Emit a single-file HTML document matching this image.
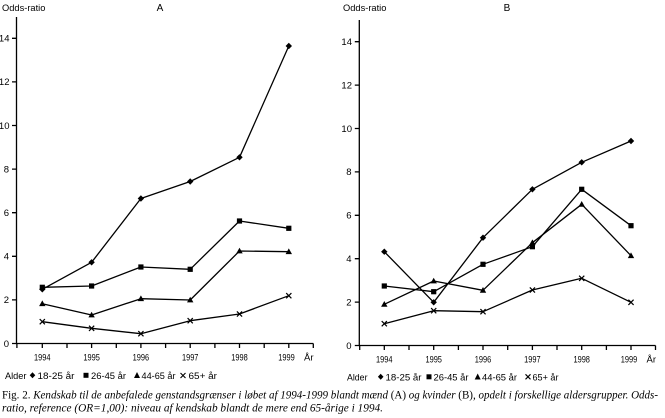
<!DOCTYPE html>
<html><head><meta charset="utf-8"><style>
html,body{margin:0;padding:0;background:#fff;}
svg{display:block;}
</style></head><body>
<svg width="665" height="418" viewBox="0 0 665 418" xmlns="http://www.w3.org/2000/svg" font-family="Liberation Sans, sans-serif" fill="#000">
<defs>
<g id="dm"><path d="M0,-3.2 L3.2,0 L0,3.2 L-3.2,0Z"/></g>
<g id="sq"><rect x="-2.6" y="-2.6" width="5.2" height="5.2"/></g>
<g id="tr"><path d="M0,-3.3 L3.2,2.4 L-3.2,2.4Z"/></g>
<g id="xx"><path d="M-2.6,-2.6 L2.6,2.6 M-2.6,2.6 L2.6,-2.6" stroke="#000" stroke-width="1.2" fill="none"/></g>
</defs>

<!-- ===== Panel A ===== -->
<text x="2" y="11" font-size="9.3">Odds-ratio</text>
<text x="160" y="11" font-size="10" text-anchor="middle">A</text>
<g stroke="#000" stroke-width="1.3" fill="none">
<path d="M16.5,17 V343.5 H313.3"/>
<path d="M12,343.5 H16.5 M12,299.9 H16.5 M12,256.3 H16.5 M12,212.7 H16.5 M12,169.1 H16.5 M12,125.5 H16.5 M12,81.9 H16.5 M12,38.3 H16.5"/>
<path d="M16.9,343.5 v4.5 M42.3,343.5 v4.5 M67,343.5 v4.5 M91.6,343.5 v4.5 M116.3,343.5 v4.5 M140.9,343.5 v4.5 M165.6,343.5 v4.5 M190.2,343.5 v4.5 M214.9,343.5 v4.5 M239.5,343.5 v4.5 M264.2,343.5 v4.5 M288.8,343.5 v4.5 M313.3,343.5 v4.5"/>
</g>
<g font-size="9.5" text-anchor="end">
<text x="9" y="346.8">0</text><text x="9" y="303.2">2</text><text x="9" y="259.6">4</text><text x="9" y="216">6</text><text x="9" y="172.4">8</text><text x="9.5" y="128.8">10</text><text x="9.5" y="85.2">12</text><text x="9.5" y="41.6">14</text>
</g>
<g font-size="9.5" text-anchor="middle">
<text x="42.3" y="360.5" textLength="16.5" lengthAdjust="spacingAndGlyphs">1994</text>
<text x="91.6" y="360.5" textLength="16.5" lengthAdjust="spacingAndGlyphs">1995</text>
<text x="140.9" y="360.5" textLength="16.5" lengthAdjust="spacingAndGlyphs">1996</text>
<text x="190.2" y="360.5" textLength="16.5" lengthAdjust="spacingAndGlyphs">1997</text>
<text x="239.5" y="360.5" textLength="16.5" lengthAdjust="spacingAndGlyphs">1998</text>
<text x="286.5" y="360.5" textLength="16.5" lengthAdjust="spacingAndGlyphs">1999</text>
</g>
<text x="304" y="360.5" font-size="9.5">År</text>

<g stroke="#000" stroke-width="1.3" fill="none" stroke-linejoin="round">
<polyline points="42.3,289.3 91.6,262.3 140.9,198.5 190.2,181.5 239.5,157.3 288.8,46"/>
<polyline points="42.3,287.3 91.6,286 140.9,267 190.2,269.3 239.5,221 288.8,228.3"/>
<polyline points="42.3,303.7 91.6,315 140.9,298.7 190.2,300 239.5,251 288.8,251.7"/>
<polyline points="42.3,321.7 91.6,328.3 140.9,333.7 190.2,320.7 239.5,314 288.8,295.7"/>
</g>
<use href="#dm" x="42.3" y="289.3"/><use href="#dm" x="91.6" y="262.3"/><use href="#dm" x="140.9" y="198.5"/><use href="#dm" x="190.2" y="181.5"/><use href="#dm" x="239.5" y="157.3"/><use href="#dm" x="288.8" y="46"/>
<use href="#sq" x="42.3" y="287.3"/><use href="#sq" x="91.6" y="286"/><use href="#sq" x="140.9" y="267"/><use href="#sq" x="190.2" y="269.3"/><use href="#sq" x="239.5" y="221"/><use href="#sq" x="288.8" y="228.3"/>
<use href="#tr" x="42.3" y="303.7"/><use href="#tr" x="91.6" y="315"/><use href="#tr" x="140.9" y="298.7"/><use href="#tr" x="190.2" y="300"/><use href="#tr" x="239.5" y="251"/><use href="#tr" x="288.8" y="251.7"/>
<use href="#xx" x="42.3" y="321.7"/><use href="#xx" x="91.6" y="328.3"/><use href="#xx" x="140.9" y="333.7"/><use href="#xx" x="190.2" y="320.7"/><use href="#xx" x="239.5" y="314"/><use href="#xx" x="288.8" y="295.7"/>

<!-- Legend A -->
<g font-size="9.5">
<text x="5" y="378.8" textLength="21.5" lengthAdjust="spacingAndGlyphs">Alder</text>
<path d="M32.5,372.3 L35.3,375.3 L32.5,378.3 L29.7,375.3Z"/>
<text x="37.5" y="378.8" textLength="37" lengthAdjust="spacingAndGlyphs">18-25 år</text>
<rect x="83.5" y="372.8" width="5" height="5"/>
<text x="91" y="378.8" textLength="35" lengthAdjust="spacingAndGlyphs">26-45 år</text>
<path d="M137,372 L140,378 L134,378Z"/>
<text x="141.5" y="378.8" textLength="34" lengthAdjust="spacingAndGlyphs">44-65 år</text>
<path d="M180.5,373 L185.5,378 M180.5,378 L185.5,373" stroke="#000" stroke-width="1.1"/>
<text x="188.5" y="378.8" textLength="28.5" lengthAdjust="spacingAndGlyphs">65+ år</text>
</g>

<!-- ===== Panel B ===== -->
<text x="343" y="11" font-size="9.3">Odds-ratio</text>
<text x="507" y="11" font-size="10" text-anchor="middle">B</text>
<g stroke="#000" stroke-width="1.3" fill="none">
<path d="M359.3,20 V345.5 H655.5"/>
<path d="M354.8,345.5 H359.3 M354.8,302.1 H359.3 M354.8,258.7 H359.3 M354.8,215.3 H359.3 M354.8,171.9 H359.3 M354.8,128.5 H359.3 M354.8,85.1 H359.3 M354.8,41.7 H359.3"/>
<path d="M359.7,345.5 v4.5 M384.3,345.5 v4.5 M409,345.5 v4.5 M433.7,345.5 v4.5 M458.4,345.5 v4.5 M483,345.5 v4.5 M507.7,345.5 v4.5 M532.4,345.5 v4.5 M557,345.5 v4.5 M581.7,345.5 v4.5 M606.4,345.5 v4.5 M631,345.5 v4.5 M655.5,345.5 v4.5"/>
</g>
<g font-size="9.5" text-anchor="end">
<text x="351.5" y="348.8">0</text><text x="351.5" y="305.4">2</text><text x="351.5" y="262">4</text><text x="351.5" y="218.6">6</text><text x="351.5" y="175.2">8</text><text x="352" y="131.8">10</text><text x="352" y="88.4">12</text><text x="352" y="45">14</text>
</g>
<g font-size="9.5" text-anchor="middle">
<text x="384.3" y="362.5" textLength="16.5" lengthAdjust="spacingAndGlyphs">1994</text>
<text x="433.7" y="362.5" textLength="16.5" lengthAdjust="spacingAndGlyphs">1995</text>
<text x="483" y="362.5" textLength="16.5" lengthAdjust="spacingAndGlyphs">1996</text>
<text x="532.4" y="362.5" textLength="16.5" lengthAdjust="spacingAndGlyphs">1997</text>
<text x="581.7" y="362.5" textLength="16.5" lengthAdjust="spacingAndGlyphs">1998</text>
<text x="629" y="362.5" textLength="16.5" lengthAdjust="spacingAndGlyphs">1999</text>
</g>
<text x="646.5" y="362.5" font-size="9.5">År</text>

<g stroke="#000" stroke-width="1.3" fill="none" stroke-linejoin="round">
<polyline points="384.3,251.7 433.7,302.3 483,237.7 532.4,189.3 581.7,162.3 631,141"/>
<polyline points="384.3,286 433.7,291.7 483,264.3 532.4,246.7 581.7,189.3 631,225.7"/>
<polyline points="384.3,304.3 433.7,281 483,290.3 532.4,242.7 581.7,204.3 631,255.7"/>
<polyline points="384.3,323.7 433.7,310.7 483,311.7 532.4,290 581.7,278.3 631,302.3"/>
</g>
<use href="#dm" x="384.3" y="251.7"/><use href="#dm" x="433.7" y="302.3"/><use href="#dm" x="483" y="237.7"/><use href="#dm" x="532.4" y="189.3"/><use href="#dm" x="581.7" y="162.3"/><use href="#dm" x="631" y="141"/>
<use href="#sq" x="384.3" y="286"/><use href="#sq" x="433.7" y="291.7"/><use href="#sq" x="483" y="264.3"/><use href="#sq" x="532.4" y="246.7"/><use href="#sq" x="581.7" y="189.3"/><use href="#sq" x="631" y="225.7"/>
<use href="#tr" x="384.3" y="304.3"/><use href="#tr" x="433.7" y="281"/><use href="#tr" x="483" y="290.3"/><use href="#tr" x="532.4" y="242.7"/><use href="#tr" x="581.7" y="204.3"/><use href="#tr" x="631" y="255.7"/>
<use href="#xx" x="384.3" y="323.7"/><use href="#xx" x="433.7" y="310.7"/><use href="#xx" x="483" y="311.7"/><use href="#xx" x="532.4" y="290"/><use href="#xx" x="581.7" y="278.3"/><use href="#xx" x="631" y="302.3"/>

<!-- Legend B -->
<g font-size="9.5">
<text x="347" y="380.3" textLength="20.5" lengthAdjust="spacingAndGlyphs">Alder</text>
<path d="M380.7,373.8 L383.5,376.8 L380.7,379.8 L377.9,376.8Z"/>
<text x="385.5" y="380.3" textLength="36" lengthAdjust="spacingAndGlyphs">18-25 år</text>
<rect x="426.5" y="374.3" width="5" height="5"/>
<text x="433.5" y="380.3" textLength="35" lengthAdjust="spacingAndGlyphs">26-45 år</text>
<path d="M477.7,373.5 L480.7,379.5 L474.7,379.5Z"/>
<text x="482" y="380.3" textLength="35" lengthAdjust="spacingAndGlyphs">44-65 år</text>
<path d="M525.5,374.3 L530.5,379.3 M525.5,379.3 L530.5,374.3" stroke="#000" stroke-width="1.1"/>
<text x="532.5" y="380.3" textLength="26" lengthAdjust="spacingAndGlyphs">65+ år</text>
</g>

<!-- Caption -->
<g font-family="Liberation Serif, serif" font-size="11.5">
<text x="2" y="398.5" textLength="656" lengthAdjust="spacingAndGlyphs"><tspan>Fig. 2.  </tspan><tspan font-style="italic">Kendskab til de anbefalede genstandsgrænser i løbet af 1994-1999 </tspan><tspan font-style="italic">blandt mænd </tspan><tspan>(A)</tspan><tspan font-style="italic"> og kvinder </tspan><tspan>(B)</tspan><tspan font-style="italic">, opdelt i forskellige aldersgrupper. Odds-</tspan></text>
<text x="2" y="411.7" font-style="italic" textLength="381" lengthAdjust="spacingAndGlyphs">ratio, reference (OR=1,00): niveau af kendskab blandt de mere end 65-årige i 1994.</text>
</g>
</svg>
</body></html>
